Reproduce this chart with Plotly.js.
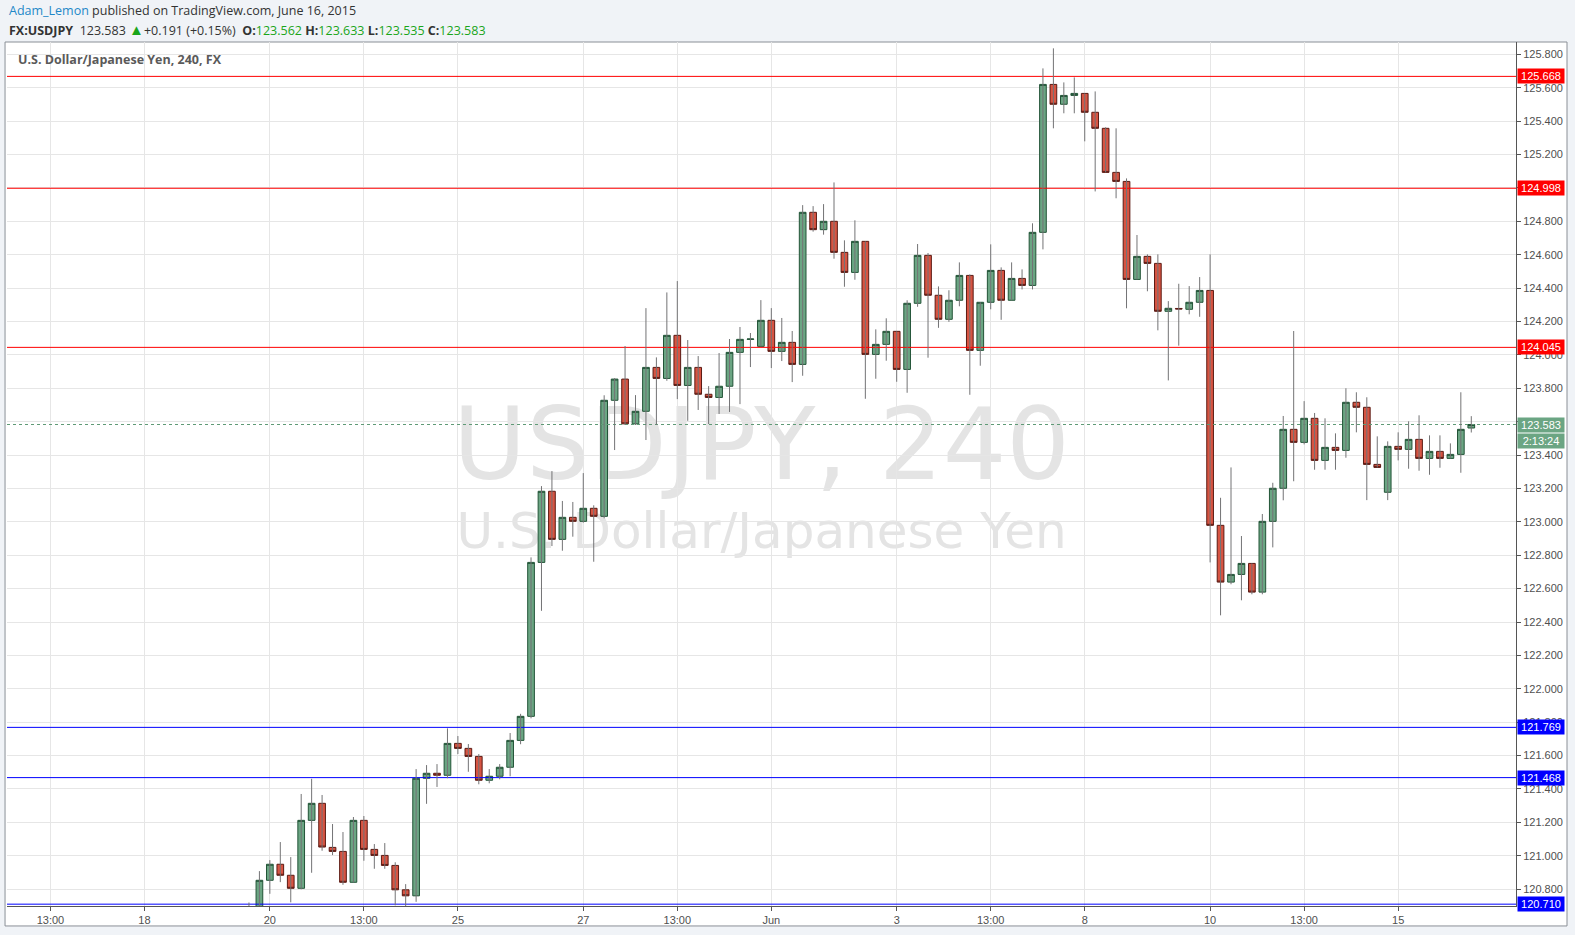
<!DOCTYPE html>
<html>
<head>
<meta charset="utf-8">
<script src="https://cdn.plot.ly/plotly-3.0.1.min.js"></script>
<style>
  html, body { margin: 0; padding: 0; background: #f0f3f7; }
  #chart { width: 1575px; height: 935px; }
</style>
</head>
<body>
<div id="chart"></div>
<script>
// ---- Data (USDJPY, 4-hour bars) ----
const openP = [120.58,120.62,120.853,120.949,120.883,120.805,121.212,121.314,121.050,121.026,
  120.841,121.212,121.038,121.002,120.942,120.796,120.760,121.464,121.494,121.482,
  121.673,121.643,121.595,121.452,121.476,121.530,121.691,121.835,122.757,123.183,
  122.895,123.027,123.003,123.081,123.033,123.728,123.855,123.587,123.662,123.925,
  123.859,124.117,123.817,123.925,123.764,123.745,123.812,124.015,124.093,124.051,
  124.207,124.021,124.075,123.943,124.854,124.750,124.800,124.614,124.494,124.680,
  124.003,124.063,124.141,123.913,124.309,124.596,124.357,124.213,124.327,124.476,
  124.027,124.315,124.506,124.327,124.458,124.416,124.734,125.620,125.501,125.554,
  125.566,125.453,125.357,125.093,125.039,124.452,124.590,124.548,124.261,124.278,
  124.273,124.315,124.386,122.979,122.639,122.685,122.751,122.579,123.003,123.201,
  123.554,123.476,123.620,123.368,123.446,123.428,123.716,123.686,123.344,123.177,
  123.452,123.434,123.494,123.380,123.422,123.380,123.404,123.562];
const highP = [120.72,120.908,120.974,121.082,120.992,121.370,121.461,121.364,121.190,121.142,
  121.232,121.238,121.070,121.076,120.961,120.830,121.519,121.543,121.549,121.763,
  121.717,121.669,121.609,121.519,121.549,121.735,121.850,122.787,123.214,123.304,
  123.125,123.119,123.292,123.099,123.758,123.861,124.053,123.759,124.280,123.985,
  124.374,124.442,124.089,123.993,123.813,124.011,124.095,124.167,124.131,124.328,
  124.280,124.221,124.143,124.897,124.891,124.903,125.033,124.686,124.806,124.680,
  124.153,124.219,124.141,124.327,124.664,124.610,124.410,124.387,124.554,124.482,
  124.315,124.662,124.524,124.554,124.512,124.788,125.716,125.836,125.632,125.662,
  125.566,125.578,125.363,125.357,125.057,124.718,124.602,124.602,124.322,124.426,
  124.412,124.466,124.602,123.144,123.326,122.915,122.751,123.047,123.234,123.634,
  124.143,123.723,123.652,123.620,123.530,123.800,123.776,123.746,123.512,123.482,
  123.536,123.602,123.638,123.518,123.518,123.470,123.776,123.633];
const lowP = [120.50,120.58,120.772,120.842,120.721,120.799,120.898,121.030,121.004,120.826,
  120.841,120.970,120.922,120.922,120.703,120.690,120.724,121.311,121.412,121.464,
  121.609,121.503,121.428,121.434,121.458,121.476,121.668,121.823,122.467,122.855,
  122.827,122.911,122.995,122.761,123.021,123.430,123.580,123.580,123.490,123.580,
  123.845,123.735,123.605,123.670,123.586,123.646,123.658,123.705,123.927,124.051,
  123.921,123.963,123.837,123.875,124.738,124.720,124.576,124.408,124.450,123.737,
  123.857,123.965,123.839,123.773,124.288,123.983,124.162,124.198,124.291,123.761,
  123.935,124.273,124.210,124.327,124.392,124.392,124.632,125.357,125.447,125.447,
  125.279,124.979,125.093,124.938,124.279,124.452,124.381,124.147,123.847,124.055,
  124.243,124.228,122.757,122.440,122.626,122.530,122.566,122.566,122.847,123.129,
  123.243,123.464,123.312,123.312,123.312,123.384,123.536,123.130,123.326,123.130,
  123.368,123.318,123.306,123.282,123.324,123.380,123.294,123.535];
const closeP = [120.62,120.853,120.949,120.883,120.805,121.212,121.314,121.052,121.026,120.841,
  121.212,121.038,121.002,120.942,120.796,120.760,121.464,121.494,121.482,121.673,
  121.643,121.595,121.452,121.476,121.530,121.691,121.835,122.757,123.183,122.895,
  123.027,123.003,123.081,123.033,123.728,123.855,123.587,123.662,123.925,123.859,
  124.117,123.817,123.925,123.764,123.745,123.812,124.015,124.093,124.095,124.207,
  124.021,124.075,123.943,124.854,124.750,124.800,124.614,124.494,124.680,124.003,
  124.063,124.141,123.913,124.309,124.596,124.357,124.213,124.327,124.476,124.027,
  124.315,124.506,124.327,124.458,124.416,124.734,125.620,125.501,125.554,125.566,
  125.453,125.357,125.093,125.039,124.452,124.590,124.548,124.261,124.279,124.275,
  124.315,124.386,122.979,122.639,122.685,122.751,122.579,123.003,123.201,123.554,
  123.476,123.620,123.368,123.446,123.428,123.716,123.686,123.344,123.326,123.452,
  123.434,123.494,123.380,123.422,123.380,123.404,123.554,123.583];

// x-axis tick positions (bar index) and labels
const tickBars = [-19, -10, 2, 11, 20, 32, 41, 50, 62, 71, 80, 92, 101, 110];
const tickLabels = ["13:00","18","20","13:00","25","27","13:00","Jun","3","13:00","8","10","13:00","15"];

// horizontal levels
const resistanceLevels = [125.668, 124.998, 124.045];
const supportLevels = [121.769, 121.468, 120.710];
const lastPrice = 123.583;
const countdown = "2:13:24";

// visible axis windows
const xRange = [-23.16, 121.28];
const yRange = [120.699, 125.874];

// ---- Build traces ----
const barIdx = openP.map((_, i) => i);
const wickX = [], wickY = [];
barIdx.forEach(i => { wickX.push(i, i, null); wickY.push(highP[i], lowP[i], null); });
const bodyHigh = barIdx.map(i => Math.max(openP[i], closeP[i]));
const bodyLow = barIdx.map(i => Math.min(openP[i], closeP[i]));

const UP_FILL = '#6ba583', UP_LINE = '#225437', DN_FILL = '#d75442', DN_LINE = '#5b1a13';

function levelTrace(v, color, dash) {
  return { type: 'scatter', mode: 'lines', x: xRange, y: [v, v],
    line: { color: color, width: 1, dash: dash || 'solid' }, hoverinfo: 'skip', showlegend: false };
}

const traces = [];
traces.push(levelTrace(lastPrice, '#5f9a76', 'dot'));
resistanceLevels.forEach(v => traces.push(levelTrace(v, '#ff0000')));
supportLevels.forEach(v => traces.push(levelTrace(v, '#0000ff')));
traces.push({ type: 'scatter', mode: 'lines', x: wickX, y: wickY, line: { color: '#737375', width: 1 },
  hoverinfo: 'skip', showlegend: false, connectgaps: false });
traces.push({ type: 'candlestick', x: barIdx, open: openP, high: bodyHigh, low: bodyLow, close: closeP,
  increasing: { fillcolor: UP_FILL, line: { color: UP_LINE, width: 1 } },
  decreasing: { fillcolor: DN_FILL, line: { color: DN_LINE, width: 1 } },
  whiskerwidth: 0, showlegend: false, hoverinfo: 'skip' });

// ---- Layout ----
const TICKFONT = { family: 'Liberation Sans, Arial, sans-serif', size: 11, color: '#4f4f4f' };
const shapes = [
  // white chart frame
  { type: 'rect', xref: 'paper', yref: 'paper', x0: -0.0013, x1: 1.0338, y0: -0.0231, y1: 1.0,
    fillcolor: '#ffffff', line: { color: '#8a8f96', width: 1 }, layer: 'below' },
  // watermarks
  { type: 'rect', xref: 'paper', yref: 'paper', x0: 0, x1: 1, y0: 0.492, y1: 0.592,
    fillcolor: 'rgba(0,0,0,0)', line: { width: 0 }, layer: 'below',
    label: { text: 'USDJPY, 240', textposition: 'middle center',
      font: { family: 'DejaVu Sans', size: 100, color: '#e4e4e4' } } },
  { type: 'rect', xref: 'paper', yref: 'paper', x0: 0, x1: 1, y0: 0.389, y1: 0.489,
    fillcolor: 'rgba(0,0,0,0)', line: { width: 0 }, layer: 'below',
    label: { text: 'U.S. Dollar/Japanese Yen', textposition: 'middle center',
      font: { family: 'DejaVu Sans', size: 50, color: '#e4e4e4' } } }
];

const LABELFONT = { family: 'Liberation Sans, Arial, sans-serif', size: 11, color: '#ffffff' };
const annotations = [];
function priceTag(v, bg, txt, shift) {
  annotations.push({ xref: 'paper', yref: 'y', x: 1, y: v, xanchor: 'left', yanchor: 'middle',
    xshift: 1, yshift: shift || 0, text: txt, showarrow: false, bgcolor: bg, borderpad: 0,
    font: LABELFONT, width: 46, height: 14, align: 'center' });
}
resistanceLevels.forEach(v => priceTag(v, '#ff0000', v.toFixed(3)));
supportLevels.forEach(v => priceTag(v, '#0000ff', v.toFixed(3)));
priceTag(lastPrice, '#6ba583', lastPrice.toFixed(3));
priceTag(lastPrice, '#6ba583', countdown, -16);

annotations.push({ xref: 'paper', yref: 'paper', x: 0, y: 1.0359, xanchor: 'left', yanchor: 'middle',
  showarrow: false, font: { family: 'Open Sans', size: 12.5, color: '#333333' },
  text: '<span style="color:#1e88c8">Adam_Lemon</span> published on TradingView.com, June 16, 2015' });
annotations.push({ xref: 'paper', yref: 'paper', x: 0, y: 1.0150, xanchor: 'left', yanchor: 'middle',
  showarrow: false, font: { family: 'Open Sans', size: 12.5, color: '#333333' },
  text: '<b>FX:USDJPY</b>  123.583 <span style="color:#1aa51a;font-size:15px">▲</span>+0.191 (+0.15%)  ' +
    '<b>O:</b><span style="color:#1aa51a">123.562</span> <b>H:</b><span style="color:#1aa51a">123.633</span> ' +
    '<b>L:</b><span style="color:#1aa51a">123.535</span> <b>C:</b><span style="color:#1aa51a">123.583</span>' });
annotations.push({ xref: 'paper', yref: 'paper', x: 0.006, y: 0.9792, xanchor: 'left', yanchor: 'middle',
  showarrow: false, font: { family: 'Open Sans', size: 12.5, color: '#5a5a5a' },
  text: '<b>U.S. Dollar/Japanese Yen, 240, FX</b>' });

const layout = {
  width: 1575, height: 935, autosize: false,
  margin: { l: 7, r: 59, t: 42, b: 29, pad: 0 },
  paper_bgcolor: '#f0f3f7', plot_bgcolor: 'rgba(0,0,0,0)',
  showlegend: false, hovermode: false,
  boxgap: 0.36, boxgroupgap: 0,
  xaxis: { type: 'linear', range: xRange, tickmode: 'array', tickvals: tickBars, ticktext: tickLabels,
    showgrid: true, gridcolor: '#e6e6e6', gridwidth: 1, zeroline: false,
    ticks: 'outside', ticklen: 4, tickcolor: '#555555', showline: true, linecolor: '#555555', linewidth: 1,
    tickfont: TICKFONT, rangeslider: { visible: false }, fixedrange: true },
  yaxis: { side: 'right', range: yRange, tick0: 0, dtick: 0.2, tickformat: '.3f',
    showgrid: true, gridcolor: '#e6e6e6', gridwidth: 1, zeroline: false,
    ticks: 'outside', ticklen: 4, tickcolor: '#555555', showline: true, linecolor: '#555555', linewidth: 1,
    tickfont: TICKFONT, fixedrange: true },
  shapes: shapes,
  annotations: annotations
};

Plotly.newPlot('chart', traces, layout, { displayModeBar: false, staticPlot: true });
</script>
</body>
</html>
